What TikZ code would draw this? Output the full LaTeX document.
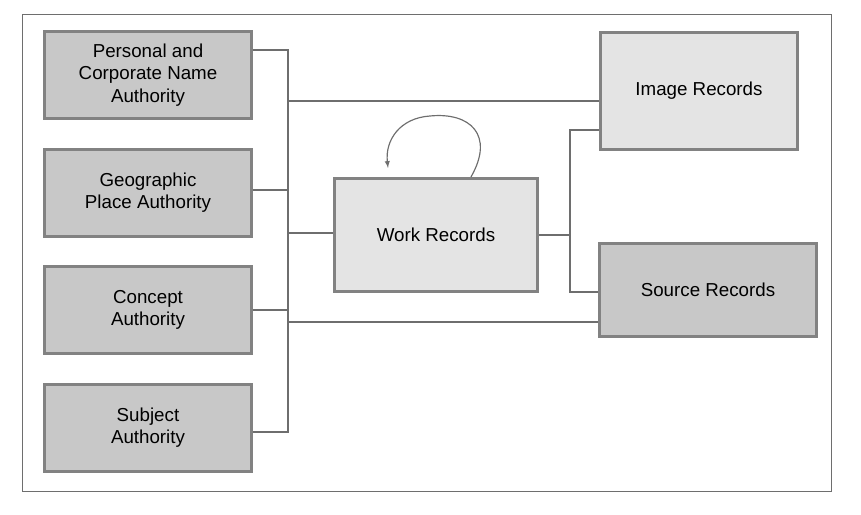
\documentclass[tikz,border=0pt]{standalone}
\usepackage{fontspec}
\setmainfont{Liberation Sans}
\usetikzlibrary{positioning, calc}
\usetikzlibrary{arrows}

\begin{document}
\begin{tikzpicture}[x=0.03cm, y=-0.03cm, font=\fontsize{16}{19}\selectfont, align=center, >=latex, line width=0.6pt]
        % Define colors
        \definecolor{darkbox}{RGB}{200,200,200}
        \definecolor{lightbox}{RGB}{228,228,228}
        \definecolor{edgegray}{RGB}{130,130,130}
        \definecolor{linegray}{RGB}{110,110,110}
        \tikzset{
            auth/.style={draw=edgegray, line width=2.4pt, fill=darkbox, minimum width=6.2cm, minimum height=2.6cm},
            rec/.style={draw=edgegray, line width=2.4pt, fill=lightbox},
            link/.style={draw=linegray, line width=1pt}
        }
        \useasboundingbox (0,0) rectangle (861,515);
        \draw[draw=linegray, line width=0.8pt] (22,14) rectangle (831,491);

        % Nodes
        \node[auth] (personal) at (148,75) {Personal and\\Corporate Name\\Authority};
        \node[auth] (place) at (148,193) {Geographic\\Place Authority};
        \node[auth] (concept) at (148,310) {Concept\\Authority};
        \node[auth] (subject) at (148,428) {Subject\\Authority};

        \node[rec, minimum width=6.1cm, minimum height=3.4cm] (work) at (436,235) {Work Records};
        \node[rec, minimum width=5.9cm, minimum height=3.5cm] (image) at (699,91) {Image Records};
        \node[rec, fill=darkbox, minimum width=6.5cm, minimum height=2.8cm] (source) at (708,290) {Source Records};

        % Bus points
        \coordinate (lt) at (288,50);
        \coordinate (lb) at (288,432);
        \coordinate (rt) at (570,130);
        \coordinate (rb) at (570,292);

        % Edges
        \draw[link] (personal.east |- lt) -- (lt) -- (lb) -- (subject.east |- lb);
        \draw[link] (place.east |- 0,190) -- (288,190);
        \draw[link] (concept.east) -- (288,310);
        \draw[link] (288,101) -- (image.west |- 0,101);
        \draw[link] (288,322) -- (source.west |- 0,322);
        \draw[link] (288,233) -- (work.west |- 0,233);
        \draw[link] (work.east) -- (570,235);
        \draw[link] (image.west |- rt) -- (rt) -- (rb) -- (source.west |- rb);
        \draw[link, ->] ($(work.north)+(35,0)$) .. controls (495,135) and (470,112) .. (430,116)
            .. controls (400,118) and (385,140) .. ($(work.north)+(-48,-9)$);
\end{tikzpicture}
\end{document}
